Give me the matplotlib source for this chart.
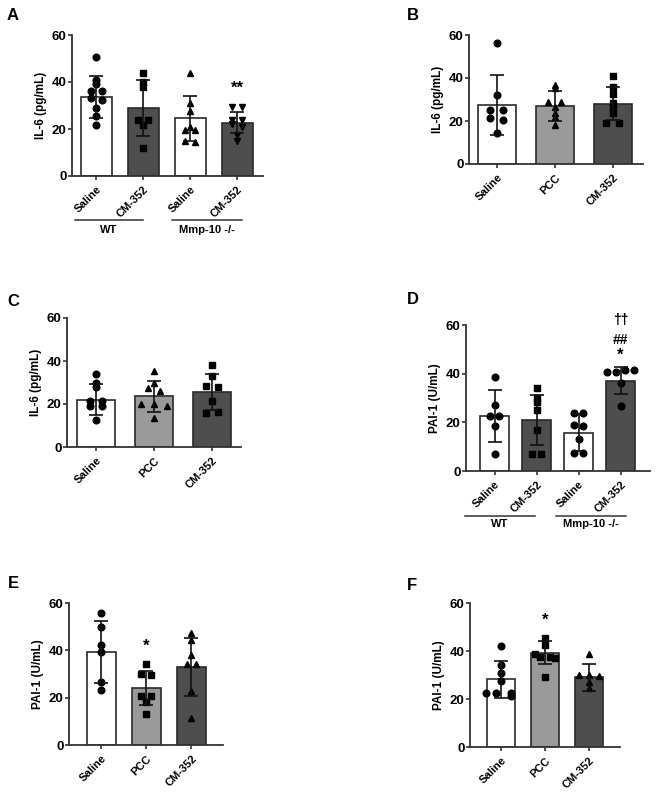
import matplotlib
matplotlib.use("Agg")
import matplotlib.pyplot as plt

plt.rcParams["font.family"] = ["Liberation Sans", "DejaVu Sans"]
plt.rcParams["font.weight"] = "bold"

W, H = 658, 800

WHITE = "#ffffff"
LIGHT = "#9a9a9a"
DARK = "#4e4e4e"
EDGE = "#2a2a2a"

# ---------------------------------------------------------------- data
# Panel A: IL-6, WT vs Mmp-10 -/-
a_labels = ["Saline", "CM-352", "Saline", "CM-352"]
a_means = [33.6, 29.1, 24.5, 22.7]
a_sd = [8.8, 11.9, 9.6, 4.6]
a_points = [
    [50.5, 41.0, 39.0, 36.0, 36.0, 33.0, 32.5, 29.0, 25.5, 21.5],
    [44.0, 40.0, 38.0, 24.0, 24.0, 21.7, 11.8],
    [44.0, 31.0, 27.5, 21.0, 19.5, 19.5, 15.0, 14.5],
    [29.5, 29.5, 24.0, 24.0, 22.0, 21.0, 17.5, 15.0],
]

# Panel B: IL-6
b_labels = ["Saline", "PCC", "CM-352"]
b_means = [27.3, 27.0, 28.0]
b_sd = [14.0, 6.9, 7.6]
b_points = [
    [56.1, 32.1, 25.1, 25.1, 21.2, 20.5, 14.3],
    [36.7, 35.2, 29.0, 29.0, 26.4, 23.6, 22.0, 18.1],
    [41.0, 35.7, 32.6, 28.2, 26.4, 23.6, 19.2, 19.2],
]

# Panel C: IL-6
c_labels = ["Saline", "PCC", "CM-352"]
c_means = [22.0, 23.6, 25.6]
c_sd = [7.3, 7.2, 8.5]
c_points = [
    [34.0, 30.0, 27.9, 21.5, 21.5, 19.0, 19.0, 12.4],
    [35.5, 29.8, 27.4, 26.2, 20.0, 20.0, 18.9, 13.5],
    [38.3, 33.2, 28.2, 27.8, 21.6, 15.8, 16.1],
]

# Panel D: PAI-1, WT vs Mmp-10 -/-
d_labels = ["Saline", "CM-352", "Saline", "CM-352"]
d_means = [22.5, 20.9, 15.8, 37.1]
d_sd = [10.6, 10.2, 7.5, 5.6]
d_points = [
    [38.5, 27.0, 22.5, 22.5, 18.4, 7.1],
    [34.3, 30.2, 28.4, 25.0, 17.0, 7.1, 7.1],
    [23.9, 23.9, 18.8, 18.5, 13.3, 7.4, 7.4],
    [40.8, 40.8, 41.5, 41.5, 36.3, 26.6],
]

# Panel E: PAI-1
e_labels = ["Saline", "PCC", "CM-352"]
e_means = [39.3, 23.9, 33.0]
e_sd = [13.0, 7.2, 12.3]
e_points = [
    [55.9, 49.9, 42.1, 39.3, 26.7, 23.2],
    [34.1, 30.2, 29.5, 20.6, 20.6, 18.3, 13.3],
    [47.3, 44.2, 38.2, 34.4, 34.4, 22.9, 11.2],
]

# Panel F: PAI-1
f_labels = ["Saline", "PCC", "CM-352"]
f_means = [28.2, 39.3, 29.0]
f_sd = [7.6, 4.9, 5.7]
f_points = [
    [42.0, 34.0, 30.7, 27.7, 22.4, 22.4, 22.7, 21.4],
    [45.6, 42.5, 38.7, 37.6, 37.6, 36.9, 29.3],
    [38.7, 30.0, 30.0, 29.6, 27.2, 24.5],
]


# ---------------------------------------------------------------- helpers
def px_axes(fig, x0, x1, y60, y0):
    """Axes from pixel coords: x0..x1 spine extent, y60 top (value 60), y0 bottom."""
    return fig.add_axes([x0 / W, 1 - y0 / H, (x1 - x0) / W, (y0 - y60) / H])


def spread(vals):
    """Horizontal jitter offsets for points with similar values (like GraphPad)."""
    offs = []
    for i, v in enumerate(vals):
        near = [j for j, u in enumerate(vals) if abs(u - v) < 1.2]
        k = near.index(i)
        n = len(near)
        offs.append((k - (n - 1) / 2) * 0.22)
    return offs


def bar_panel(ax, labels, means, sd, points, colors, markers, ylabel,
              xlim, width=0.66, ms=4.8, fs=8):
    x = list(range(len(labels)))
    ax.bar(x, means, width=width, color=colors, edgecolor=EDGE, linewidth=1.2, zorder=1)
    for i, pts in enumerate(points):
        offs = spread(pts)
        ax.plot([i + o for o in offs], pts, linestyle="none", marker=markers[i],
                markersize=ms, color="black", zorder=3)
        ax.errorbar(i, means[i], yerr=sd[i], color="#111111", elinewidth=1.2,
                    capsize=5, capthick=1.2, zorder=4)
    ax.set_ylim(0, 60)
    ax.set_xlim(*xlim)
    ax.set_yticks([0, 20, 40, 60])
    ax.set_xticks(x)
    ax.set_xticklabels(labels, rotation=45, ha="right", rotation_mode="anchor",
                       fontsize=fs, fontweight="bold")
    ax.set_ylabel(ylabel, fontsize=fs + 0.5, fontweight="bold", labelpad=3)
    ax.tick_params(axis="y", labelsize=fs + 1.5, length=3, width=1.2, color="#333333", pad=1)
    ax.tick_params(axis="x", length=3, width=1.2, color="#333333", pad=3)
    for lab in ax.get_yticklabels():
        lab.set_fontweight("bold")
    for s in ["top", "right"]:
        ax.spines[s].set_visible(False)
    for s in ["left", "bottom"]:
        ax.spines[s].set_linewidth(1.3)
        ax.spines[s].set_color("#333333")
    ax.patch.set_alpha(0)


def group_lines(fig, y_line, y_text, spans, names, fs=8):
    for (x0, x1), name in zip(spans, names):
        fig.add_artist(plt.Line2D([x0 / W, x1 / W], [1 - y_line / H] * 2,
                                  color="#333333", linewidth=1.1))
        fig.text((x0 + x1) / 2 / W, 1 - y_text / H, name, ha="center", va="center",
                 fontsize=fs, fontweight="bold")


fig = plt.figure(figsize=(W / 100, H / 100), dpi=100, facecolor="white")

# A
ax = px_axes(fig, 72, 263, 35, 176)
bar_panel(ax, a_labels, a_means, a_sd, a_points, [WHITE, DARK, WHITE, DARK],
          ["o", "s", "^", "v"], "IL-6 (pg/mL)", (-0.52, 3.55))
ax.text(3, 34, "**", ha="center", va="bottom", fontsize=12, fontweight="bold")
group_lines(fig, 220, 230, [(75, 143), (172, 242)], ["WT", "Mmp-10 -/-"])

# B
ax = px_axes(fig, 469, 643, 35, 164)
bar_panel(ax, b_labels, b_means, b_sd, b_points, [WHITE, LIGHT, DARK],
          ["o", "^", "s"], "IL-6 (pg/mL)", (-0.48, 2.52))

# C
ax = px_axes(fig, 67, 241, 318, 447)
bar_panel(ax, c_labels, c_means, c_sd, c_points, [WHITE, LIGHT, DARK],
          ["o", "^", "s"], "IL-6 (pg/mL)", (-0.5, 2.5))

# D
ax = px_axes(fig, 466, 650, 325, 471)
bar_panel(ax, d_labels, d_means, d_sd, d_points, [WHITE, DARK, WHITE, DARK],
          ["o", "s", "o", "o"], "PAI-1 (U/mL)", (-0.68, 3.7), width=0.69)
ax.text(3, 44.5, "*", ha="center", va="bottom", fontsize=12, fontweight="bold")
ax.text(3, 51, "##", ha="center", va="bottom", fontsize=10, fontweight="bold")
ax.text(3, 59, "\u2020\u2020", ha="center", va="bottom", fontsize=10, fontweight="bold")
group_lines(fig, 516, 524, [(465, 535), (556, 626)], ["WT", "Mmp-10 -/-"])

# E
ax = px_axes(fig, 69, 223, 603, 745)
bar_panel(ax, e_labels, e_means, e_sd, e_points, [WHITE, LIGHT, DARK],
          ["o", "s", "^"], "PAI-1 (U/mL)", (-0.72, 2.7), width=0.65)
ax.text(1, 38.5, "*", ha="center", va="bottom", fontsize=12, fontweight="bold")

# F
ax = px_axes(fig, 470, 620, 603, 747)
bar_panel(ax, f_labels, f_means, f_sd, f_points, [WHITE, LIGHT, DARK],
          ["o", "s", "^"], "PAI-1 (U/mL)", (-0.7, 2.7), width=0.65)
ax.text(1, 49.5, "*", ha="center", va="bottom", fontsize=12, fontweight="bold")

# panel letters
for letter, (lx, ly) in {"A": (13, 15), "B": (413, 15), "C": (13, 302),
                         "D": (413, 299), "E": (13, 583), "F": (412, 585)}.items():
    fig.text(lx / W, 1 - ly / H, letter, ha="center", va="center",
             fontsize=12, fontweight="bold")

fig.savefig("out.png", dpi=100, facecolor="white")
